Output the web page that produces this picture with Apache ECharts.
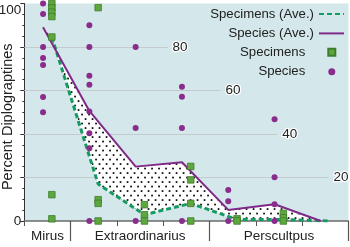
<!DOCTYPE html>
<html><head><meta charset="utf-8">
<script src="https://cdn.jsdelivr.net/npm/echarts@6/dist/echarts.min.js"></script>
<style>html,body{margin:0;padding:0;background:#fff}#c{width:350px;height:247px}</style>
</head><body><div id="c"></div>
<script>
// ---- data ----
const categories = ['Mirus', 'Extraordinarius', 'Perscultpus'];
const categorySamples = [[0], [1, 2, 3], [4, 5, 6]];
const speciesAve = [89.1, 50.6, 25, 27, 5.1, 7.7, 0];
const specimensAve = [84.6, 17, 2.9, 8.1, 0.7, 0.7, 0];
// [sample index, percent]
const speciesPoints = [
  [0,100],[0,95.2],[0,80],[0,75],[0,71.7],[0,57],[0,50],
  [1,90],[1,80],[1,66.8],[1,62.7],[1,50.3],[1,40.3],[1,33.4],[1,0],
  [2,80],[2,42.8],[2,0],
  [3,61.7],[3,57.1],[3,42.8],[3,0],
  [4,14.3],[4,9.1],[4,0],
  [5,46.8],[5,20.1],[5,7.7],[5,0]
];
const specimenPoints = [
  [0,100],[0,98],[0,96],[0,94],[0,84.6],[0,12.1],[0,1],
  [1,98.1],[1,9.8],[1,8.1],[1,0],
  [2,7.5],[2,2.9],[2,0],
  [3,25.1],[3,18.9],[3,8.1],[3,0],
  [4,1],[4,0],
  [5,3.5],[5,1.5],[5,0]
];
const gridValues = [80, 60, 40, 20];
const yTickLabels = [0, 100];

// ---- layout / style ----
const OFF = 0.19;
const xOf = (i, o) => 2 * i + 1 + o;
const catCenters = categorySamples.map(s => s.reduce((a, i) => a + 2 * i + 1, 0) / s.length);
const catBounds = categorySamples.map(s => 2 * s[s.length - 1] + 2);
const gridLabelEnds = [6.19, 8.47, 10.93, 13.14];
const FONT = 'Liberation Sans, Arial, sans-serif';
const PURPLE = '#8a2c8c';
const LINEPURPLE = '#7f2a88';
const GREEN = '#5ea63e';
const DGREEN = '#159a62';

const pc = document.createElement('canvas');
pc.width = 7; pc.height = 9;
const g = pc.getContext('2d');
g.fillStyle = '#fff'; g.fillRect(0, 0, 7, 9);
g.fillStyle = '#000';
g.fillRect(0.7, 1.2, 1.7, 1.7);
g.fillRect(4.2, 5.7, 1.7, 1.7);

const chart = echarts.init(document.getElementById('c'), null, {renderer: 'canvas'});
chart.setOption({
  animation: false,
  textStyle: {fontFamily: FONT},
  grid: {left: 24.3, top: 3.5, width: 324.1, height: 217.5, show: true,
         backgroundColor: '#d4e7ea', borderWidth: 0, outerBoundsMode: 'none', containLabel: false},
  legend: [
    {data: ['Specimens (Ave.)', 'Species (Ave.)'], orient: 'vertical', align: 'right',
     right: 5, top: 6, padding: 0, itemWidth: 25, itemHeight: 7, itemGap: 3.4,
     itemStyle: {color: 'rgba(0,0,0,0)', borderWidth: 0, opacity: 0},
     textStyle: {fontSize: 13.2, color: '#222', lineHeight: 16, fontFamily: FONT}},
    {data: ['Specimens', 'Species'], orient: 'vertical', align: 'right',
     right: 13.7, top: 44.3, padding: 0, itemWidth: 7, itemHeight: 7, itemGap: 3.4,
     textStyle: {fontSize: 13.2, color: '#222', lineHeight: 16, padding: [0, 18, 0, 0], fontFamily: FONT}}
  ],
  xAxis: [
    {type: 'value', min: 0, max: 14, interval: 2,
     axisLine: {show: true, lineStyle: {color: '#6b6b6b', width: 1.5}},
     axisTick: {show: true, length: 5, lineStyle: {color: '#555'}},
     axisLabel: {show: false}, splitLine: {show: false}},
    {type: 'value', min: 0, max: 14, position: 'bottom',
     axisLine: {show: false},
     axisTick: {show: true, length: 20, customValues: catBounds, lineStyle: {color: '#555', width: 1.2}},
     axisLabel: {show: true, customValues: catCenters, margin: 8, fontSize: 13.5, color: '#222',
       formatter: v => { const k = catCenters.indexOf(v); return k >= 0 ? categories[k] : ''; }},
     splitLine: {show: false}}
  ],
  yAxis: {type: 'value', min: 0, max: 100, interval: 20,
    name: 'Percent Diplograptines', nameLocation: 'middle', nameGap: 9, nameMoveOverlap: false,
    nameTextStyle: {fontSize: 14.5, color: '#222', padding: [0, 9, 0, 0]},
    axisLine: {show: true, lineStyle: {color: '#333'}},
    axisTick: {show: true, length: 4, lineStyle: {color: '#333'}},
    minorTick: {show: true, splitNumber: 4, length: 2, lineStyle: {color: '#333'}},
    axisLabel: {margin: 3, fontSize: 13.5, color: '#222', verticalAlignMaxLabel: 'top',
      formatter: v => yTickLabels.indexOf(v) >= 0 ? String(v) : ''},
    splitLine: {show: false}},
  series: [
    {type: 'line', name: 'grid', data: [], z: 1, silent: true,
     markLine: {silent: true, z: 1, symbol: ['none', 'none'], animation: false,
       lineStyle: {color: '#c3cbcc', width: 1, type: 'solid'},
       label: {show: true, position: 'end', distance: 5, fontSize: 13.5, color: '#222',
         textBorderColor: '#fff', textBorderWidth: 2.5, formatter: p => p.name},
       emphasis: {disabled: true},
       data: gridValues.map((v, k) => [{coord: [0, v], name: String(v)}, {coord: [gridLabelEnds[k], v]}])}},
    {type: 'custom', name: 'fill', coordinateSystem: 'cartesian2d', data: [[0, 0]], z: 2, silent: true,
     renderItem: (params, api) => {
       const top = speciesAve.map((v, i) => api.coord([xOf(i, -OFF), v]));
       const bot = specimensAve.map((v, i) => api.coord([xOf(i, OFF), v])).reverse();
       return {type: 'polygon', shape: {points: top.concat(bot)},
               style: {fill: {image: pc, repeat: 'repeat'}, stroke: null}};
     }},
    {type: 'line', name: 'Specimens (Ave.)', z: 3, symbol: 'none',
     data: specimensAve.map((v, i) => [xOf(i, OFF), v]),
     lineStyle: {color: DGREEN, width: 3, type: [5, 3]}, itemStyle: {color: DGREEN}},
    {type: 'line', name: 'Species (Ave.)', z: 3, symbol: 'none',
     data: speciesAve.map((v, i) => [xOf(i, -OFF), v]),
     lineStyle: {color: LINEPURPLE, width: 2}, itemStyle: {color: LINEPURPLE}},
    {type: 'scatter', name: 'Specimens', z: 4, symbol: 'rect', symbolSize: 6.5,
     data: specimenPoints.map(p => [xOf(p[0], OFF), p[1]]),
     itemStyle: {color: GREEN, borderColor: '#3e7d2c', borderWidth: 0.8, opacity: 1}},
    {type: 'scatter', name: 'Species', z: 4, symbol: 'circle', symbolSize: 6,
     data: speciesPoints.map(p => [xOf(p[0], -OFF), p[1]]),
     itemStyle: {color: PURPLE, opacity: 1}}
  ]
});
</script></body></html>
